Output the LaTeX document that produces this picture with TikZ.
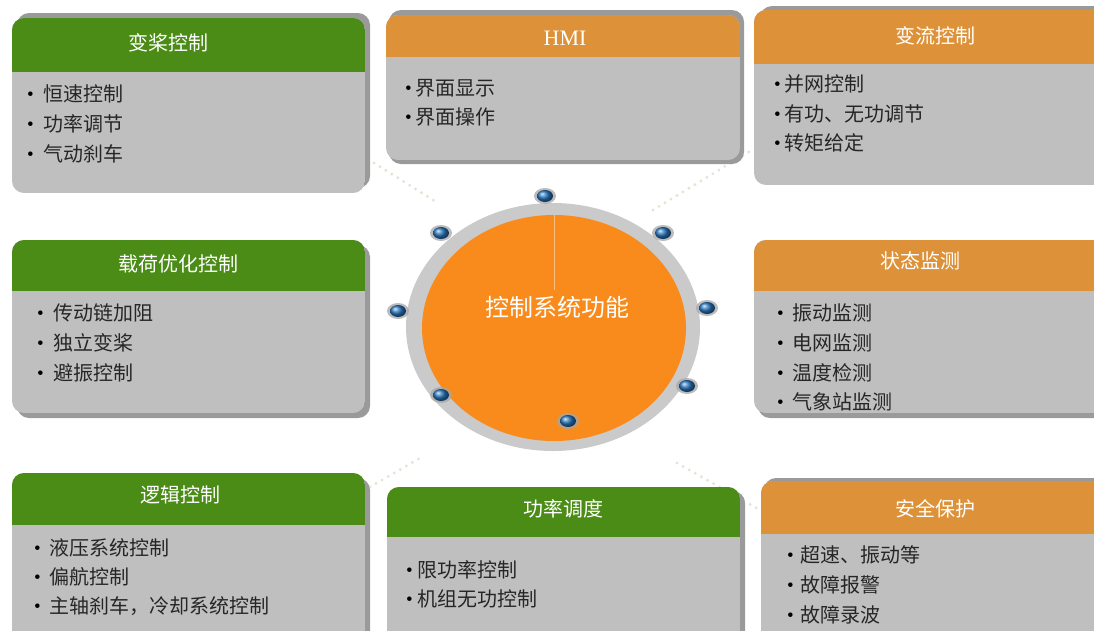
\documentclass[tikz,border=0pt]{standalone}
\usepackage{fontspec}
\setmainfont{Liberation Serif}
\newfontfamily\cjk{Noto Sans CJK SC}
\usetikzlibrary{shapes.geometric}
\definecolor{hgreen}{HTML}{4A8C15}
\definecolor{horange}{HTML}{DD9239}
\definecolor{bodygray}{HTML}{BFBFBF}
\definecolor{shadowgray}{HTML}{9A9A9A}
\definecolor{ringgray}{HTML}{CACACA}
\definecolor{coreorange}{HTML}{F98B1C}
\definecolor{dotline}{HTML}{E4E4D4}
\definecolor{dotblue}{HTML}{2A78C0}
\definecolor{txt}{HTML}{262626}
\tikzset{
  ttl/.style={font=\cjk\fontsize{20}{24}\selectfont, text=white, inner sep=0pt},
  itm/.style={font=\cjk\fontsize{20}{24}\selectfont, text=txt, inner sep=0pt, anchor=west},
  bul/.style={font=\fontsize{19}{24}\selectfont, text=black, inner sep=0pt, anchor=base west},
  dotconn/.style={draw=dotline, line width=3.2pt, line cap=round, dash pattern=on 0pt off 7pt},
}
% name, x1, y1, x2, y2, header bottom, header colour, shadow rectangle
\newcommand\mypanel[8]{%
  \fill[shadowgray,rounded corners=12pt] #8;
  \begin{scope}
    \clip[rounded corners=12pt] (#2,#3) rectangle (#4,#5);
    \fill[bodygray] (#2,#3) rectangle (#4,#5);
    \fill[#7] (#2,#3) rectangle (#4,#6);
  \end{scope}
  \coordinate (#1) at (#2,#3);
}
% name, bullet x, text x, y, text
\newcommand\myitem[5]{%
  \node[bul] (#1b) at (#2,{#4+6}) {•};
  \node[itm] (#1) at (#3,#4) {#5};
}
% name, x, y
\newcommand\knob[3]{%
  \fill[gray!70,opacity=0.75] (#2,#3) ellipse [x radius=11pt, y radius=8pt];
  \shade[ball color=dotblue] (#2,#3) ellipse [x radius=8pt, y radius=6pt];
  \coordinate (#1) at (#2,#3);
}
\begin{document}
\begin{tikzpicture}[x=1pt,y=-1pt]
\clip (0,0) rectangle (1094,630);
\fill[white] (0,0) rectangle (1094,630);

% dotted connectors
\coordinate (c1a) at (374,163); \coordinate (c1b) at (438,203);
\coordinate (c2a) at (653,210); \coordinate (c2b) at (752,150);
\coordinate (c3a) at (370,487); \coordinate (c3b) at (420,458);
\coordinate (c4a) at (677,463); \coordinate (c4b) at (760,510);
\draw[dotconn] (c1a) -- (c1b);
\draw[dotconn] (c2a) -- (c2b);
\draw[dotconn] (c3a) -- (c3b);
\draw[dotconn] (c4a) -- (c4b);

% centre
\node[ellipse, fill=ringgray, minimum width=294pt, minimum height=248pt, inner sep=0pt] (ring) at (553,327) {};
\node[ellipse, fill=coreorange, minimum width=264pt, minimum height=226pt, inner sep=0pt] (core) at (554,328) {};
\draw[coreorange!55!white, line width=0.6pt] (core.north) -- (554,290);
\node[font=\cjk\fontsize{24}{28}\selectfont, text=white, inner sep=0pt] (coret) at (557,307) {控制系统功能};

\knob{k1}{545}{196}
\knob{k2}{441}{233}
\knob{k3}{663}{233}
\knob{k4}{398}{311}
\knob{k5}{707}{308}
\knob{k6}{441}{395}
\knob{k7}{687}{386}
\knob{k8}{568}{421}

% panels
\mypanel{p1}{12}{18}{365}{193}{72}{hgreen}{(17,13) rectangle (370,188)}
\node[ttl] (p1t) at (168,43) {变桨控制};
\myitem{p1a}{27}{43}{94}{恒速控制}
\myitem{p1c}{27}{43}{124}{功率调节}
\myitem{p1e}{27}{43}{154}{气动刹车}

\mypanel{p2}{386}{15}{740}{160}{57}{horange}{(389,10) rectangle (744,164)}
\node[ttl, font=\fontsize{22}{26}\selectfont] (p2t) at (565,38) {HMI};
\myitem{p2a}{405}{415}{88}{界面显示}
\myitem{p2c}{405}{415}{117}{界面操作}

\mypanel{p3}{754}{10}{1120}{185}{64}{horange}{(760,6) rectangle (1125,180)}
\node[ttl] (p3t) at (935,36) {变流控制};
\myitem{p3a}{774}{784}{84}{并网控制}
\myitem{p3c}{774}{784}{114}{有功、无功调节}
\myitem{p3e}{774}{784}{143}{转矩给定}

\mypanel{p4}{12}{240}{365}{413}{291}{hgreen}{(17,245) rectangle (370,418)}
\node[ttl] (p4t) at (178,264) {载荷优化控制};
\myitem{p4a}{37}{53}{313}{传动链加阻}
\myitem{p4c}{37}{53}{343}{独立变桨}
\myitem{p4e}{37}{53}{373}{避振控制}

\mypanel{p5}{754}{240}{1120}{413}{291}{horange}{(758,245) rectangle (1125,418)}
\node[ttl] (p5t) at (920,261) {状态监测};
\myitem{p5a}{777}{792}{313}{振动监测}
\myitem{p5c}{777}{792}{343}{电网监测}
\myitem{p5e}{777}{792}{373}{温度检测}
\myitem{p5g}{777}{792}{402}{气象站监测}

\mypanel{p6}{12}{473}{365}{650}{525}{hgreen}{(17,478) rectangle (370,655)}
\node[ttl] (p6t) at (180,495) {逻辑控制};
\myitem{p6a}{34}{49}{548}{液压系统控制}
\myitem{p6c}{34}{49}{577}{偏航控制}
\myitem{p6e}{34}{49}{606}{主轴刹车，冷却系统控制}

\mypanel{p7}{387}{487}{740}{650}{537}{hgreen}{(392,491) rectangle (745,655)}
\node[ttl] (p7t) at (563,509) {功率调度};
\myitem{p7a}{406}{417}{570}{限功率控制}
\myitem{p7c}{406}{417}{599}{机组无功控制}

\mypanel{p8}{761}{481}{1120}{650}{534}{horange}{(764,478) rectangle (1125,650)}
\node[ttl] (p8t) at (935,509) {安全保护};
\myitem{p8a}{787}{800}{555}{超速、振动等}
\myitem{p8c}{787}{800}{585}{故障报警}
\myitem{p8e}{787}{800}{615}{故障录波}
\end{tikzpicture}
\end{document}
